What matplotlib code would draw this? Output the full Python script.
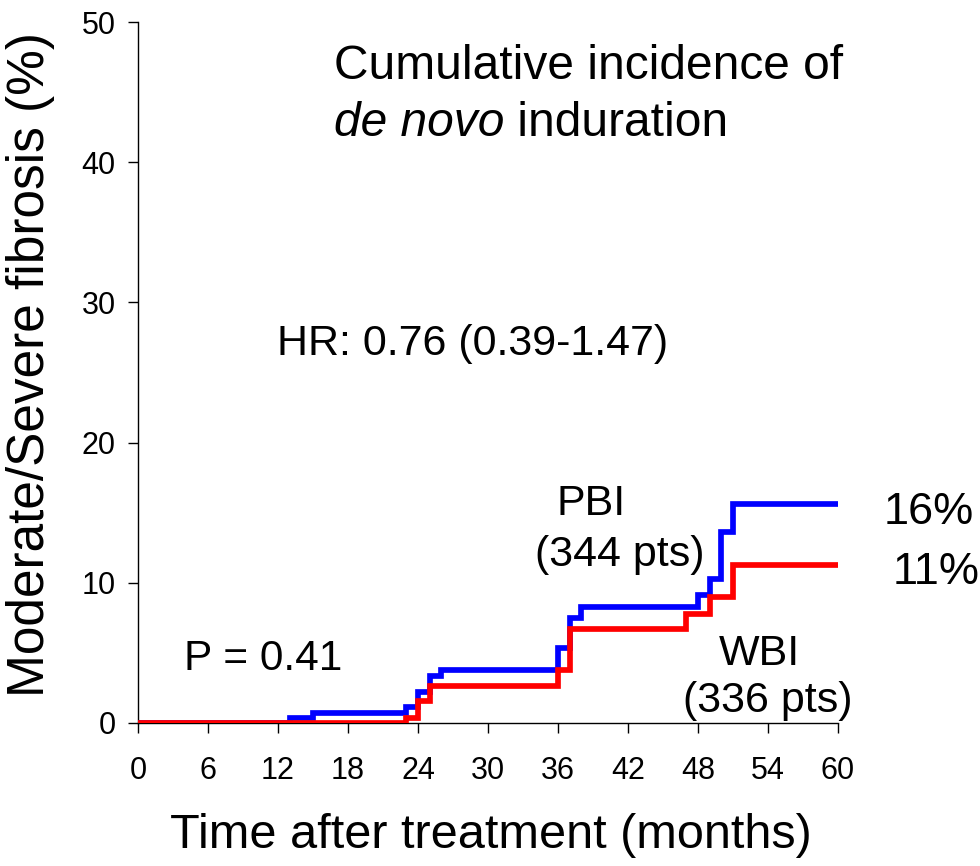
import matplotlib
matplotlib.use("Agg")
import matplotlib.pyplot as plt

plt.rcParams['font.family'] = ['Liberation Sans', 'DejaVu Sans']

# Data (months, cumulative incidence %)
pbi_t = [0, 13, 15, 23, 24, 25, 26, 36, 37, 38, 48, 49, 50, 51, 60]
pbi_y = [0, 0.33, 0.74, 1.16, 2.23, 3.35, 3.78, 5.37, 7.46, 8.25, 9.13, 10.25, 13.65, 15.6, 15.6]
wbi_t = [0, 23, 24, 25, 36, 37, 47, 49, 51, 60]
wbi_y = [0, 0.33, 1.6, 2.64, 3.78, 6.68, 7.77, 9.0, 11.3, 11.3]
x_ticks = [0, 6, 12, 18, 24, 30, 36, 42, 48, 54, 60]
y_ticks = [0, 10, 20, 30, 40, 50]

W, H = 980, 866
fig = plt.figure(figsize=(W / 100, H / 100), dpi=100)
ax = fig.add_axes([138 / W, (H - 723) / H, 700 / W, 701 / H])

ax.step(pbi_t, pbi_y, where='post', color='#0000ff', lw=4.1, solid_joinstyle='miter', zorder=3)
ax.step(wbi_t, wbi_y, where='post', color='#ff0000', lw=4.1, solid_joinstyle='miter', zorder=4)

ax.set_xlim(0, 60)
ax.set_ylim(0, 50)
ax.set_xticks(x_ticks)
ax.set_yticks(y_ticks)
ax.tick_params(axis='both', direction='out', length=7, width=1, labelsize=22)
ax.tick_params(axis='x', pad=17)
ax.tick_params(axis='y', pad=9)
for s in ['top', 'right']:
    ax.spines[s].set_visible(False)
for s in ['left', 'bottom']:
    ax.spines[s].set_linewidth(1)
ax.patch.set_alpha(0)

fs = 31
ax.text(16.8, 45.9, 'Cumulative incidence of', fontsize=34.5, ha='left', va='baseline')
t1 = ax.text(16.8, 41.9, 'de novo', fontsize=34.5, style='italic', ha='left', va='baseline')
ax.annotate(' induration', xy=(1, 0), xycoords=t1, fontsize=34.5, ha='left', va='bottom')

ax.text(11.9, 27.0, 'HR: 0.76 (0.39-1.47)', fontsize=fs, ha='left', va='center')
ax.text(3.9, 4.6, 'P = 0.41', fontsize=30.5, ha='left', va='center')
ax.text(35.9, 15.6, 'PBI', fontsize=fs, ha='left', va='center')
ax.text(34.0, 12.0, '(344 pts)', fontsize=fs, ha='left', va='center')
ax.text(49.8, 4.9, 'WBI', fontsize=fs, ha='left', va='center')
ax.text(46.7, 1.6, '(336 pts)', fontsize=fs, ha='left', va='center')
ax.text(63.9, 15.0, '16%', fontsize=32.5, ha='left', va='center', clip_on=False)
ax.text(64.7, 10.7, '11%', fontsize=32.5, ha='left', va='center', clip_on=False)

fig.text(31 / W, 1 - 365 / H, 'Moderate/Severe fibrosis (%)', fontsize=37,
         rotation=90, ha='center', va='center')
fig.text(491 / W, 1 - 835 / H, 'Time after treatment (months)', fontsize=35,
         ha='center', va='center')

fig.savefig('out.png', dpi=100)
